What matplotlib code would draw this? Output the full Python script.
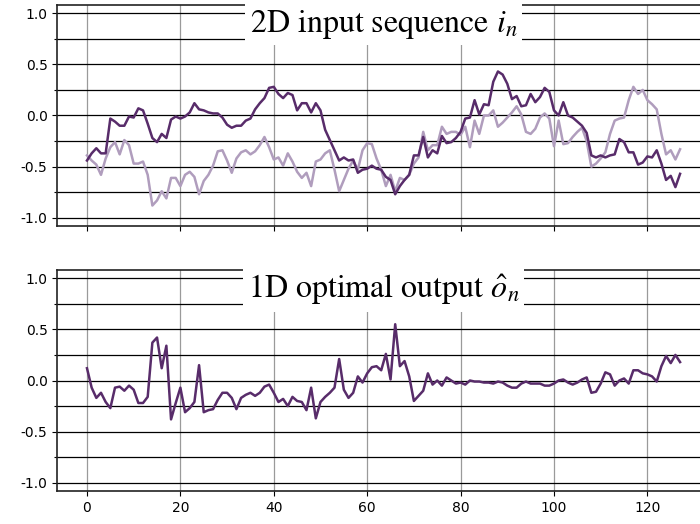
import numpy as np
import matplotlib
matplotlib.use("Agg")
import matplotlib.pyplot as plt
from matplotlib.ticker import MultipleLocator

plt.rcParams['axes.unicode_minus'] = False
plt.rcParams['mathtext.fontset'] = 'stix'

input_dim1 = [-0.44, -0.37, -0.32, -0.37, -0.37, -0.03, -0.06, -0.10, -0.10, -0.01,
              -0.02, 0.07, 0.05, -0.08, -0.22, -0.26, -0.18, -0.22, -0.04, -0.01,
              -0.03, -0.01, 0.03, 0.12, 0.06, 0.05, 0.03, 0.02, 0.02, -0.02,
              -0.09, -0.12, -0.10, -0.10, -0.05, -0.03, 0.06, 0.12, 0.17, 0.27,
              0.28, 0.21, 0.17, 0.22, 0.20, 0.05, 0.12, 0.12, 0.03, 0.12,
              0.05, -0.14, -0.24, -0.34, -0.44, -0.41, -0.44, -0.43, -0.56, -0.53,
              -0.52, -0.49, -0.52, -0.53, -0.60, -0.63, -0.77, -0.69, -0.63, -0.58,
              -0.39, -0.39, -0.21, -0.41, -0.34, -0.37, -0.20, -0.27, -0.26, -0.22,
              -0.16, -0.03, -0.02, 0.15, 0.01, 0.11, 0.10, 0.33, 0.43, 0.40,
              0.31, 0.16, 0.19, 0.09, 0.10, 0.21, 0.13, 0.18, 0.27, 0.23,
              0.05, 0.00, 0.13, 0.00, -0.02, -0.06, -0.10, -0.17, -0.39, -0.41,
              -0.39, -0.41, -0.39, -0.38, -0.23, -0.26, -0.36, -0.36, -0.48, -0.46,
              -0.40, -0.41, -0.34, -0.47, -0.63, -0.59, -0.70, -0.57]

input_dim2 = [-0.39, -0.44, -0.48, -0.58, -0.42, -0.31, -0.26, -0.38, -0.24, -0.29,
              -0.47, -0.47, -0.45, -0.58, -0.88, -0.83, -0.74, -0.81, -0.61, -0.61,
              -0.69, -0.58, -0.55, -0.60, -0.77, -0.64, -0.58, -0.49, -0.35, -0.34,
              -0.44, -0.56, -0.42, -0.36, -0.34, -0.38, -0.35, -0.29, -0.21, -0.31,
              -0.43, -0.41, -0.49, -0.37, -0.45, -0.55, -0.61, -0.56, -0.69, -0.45,
              -0.43, -0.37, -0.34, -0.53, -0.74, -0.63, -0.52, -0.44, -0.53, -0.34,
              -0.27, -0.28, -0.42, -0.53, -0.69, -0.58, -0.74, -0.61, -0.63, -0.58,
              -0.47, -0.41, -0.16, -0.34, -0.29, -0.29, -0.11, -0.18, -0.16, -0.16,
              -0.19, -0.11, -0.31, -0.05, -0.18, 0.00, 0.00, 0.05, -0.11, -0.07,
              -0.02, 0.03, 0.09, 0.01, -0.16, -0.18, -0.13, -0.02, 0.02, -0.03,
              -0.30, -0.05, -0.28, -0.27, -0.21, -0.16, -0.12, -0.25, -0.50, -0.47,
              -0.42, -0.36, -0.18, -0.05, -0.03, -0.02, 0.15, 0.28, 0.21, 0.25,
              0.15, 0.11, 0.06, -0.18, -0.38, -0.34, -0.43, -0.33]

optimal_output = [0.12, -0.07, -0.17, -0.12, -0.21, -0.27, -0.07, -0.06, -0.10, -0.05,
                  -0.09, -0.22, -0.22, -0.16, 0.37, 0.42, 0.12, 0.34, -0.38, -0.22,
                  -0.07, -0.31, -0.27, -0.21, 0.15, -0.31, -0.29, -0.28, -0.19, -0.12,
                  -0.12, -0.17, -0.28, -0.17, -0.14, -0.12, -0.15, -0.12, -0.06, -0.04,
                  -0.12, -0.21, -0.18, -0.25, -0.16, -0.20, -0.21, -0.29, -0.07, -0.37,
                  -0.21, -0.16, -0.12, -0.07, 0.21, -0.09, -0.17, -0.12, 0.04, -0.02,
                  0.07, 0.13, 0.14, 0.10, 0.26, 0.01, 0.55, 0.14, 0.19, 0.04,
                  -0.20, -0.15, -0.10, 0.07, -0.04, 0.00, -0.05, 0.03, 0.00, -0.03,
                  -0.02, -0.04, 0.00, -0.01, -0.01, -0.02, -0.02, -0.03, -0.01, -0.02,
                  -0.05, -0.07, -0.07, -0.03, -0.01, -0.03, -0.03, -0.03, -0.05, -0.05,
                  -0.03, 0.00, 0.01, -0.02, -0.04, -0.02, 0.01, 0.03, -0.12, -0.11,
                  -0.03, 0.08, 0.06, -0.05, 0.00, 0.02, -0.03, 0.10, 0.10, 0.07,
                  0.06, 0.04, -0.01, 0.14, 0.24, 0.17, 0.25, 0.18]

titles = ["2D input sequence $i_n$", "1D optimal output $\\hat{o}_n$"]
x_ticks = [0, 20, 40, 60, 80, 100, 120]

dark = '#582c6a'
light = '#b09dbd'

fig = plt.figure(figsize=(7.0, 5.24), dpi=100)
ax1 = fig.add_axes([0.0819, 0.5687, 0.932, 0.4218])
ax2 = fig.add_axes([0.0819, 0.0630, 0.932, 0.4217])

n = np.arange(len(input_dim1))

for ax in (ax1, ax2):
    ax.set_xlim(-6.35, 133.35)
    ax.set_ylim(-1.08, 1.08)
    ax.yaxis.set_major_locator(MultipleLocator(0.5))
    ax.yaxis.set_minor_locator(MultipleLocator(0.25))
    ax.set_xticks(x_ticks)
    ax.grid(True, axis='y', which='both', color='black', linewidth=0.9, zorder=0)
    ax.grid(True, axis='x', which='major', color='#9a9a9a', linewidth=0.9, zorder=0)
    ax.set_axisbelow(True)
    ax.tick_params(axis='y', which='major', length=3.5, width=0.8, labelsize=10)
    ax.tick_params(axis='y', which='minor', length=2.0, width=0.8)
    ax.tick_params(axis='x', which='major', length=3.5, width=0.8, labelsize=10)
    for s in ('left', 'top', 'bottom', 'right'):
        ax.spines[s].set_linewidth(1.2)
        ax.spines[s].set_color('#222222')

ax1.plot(n, input_dim1, color=dark, linewidth=1.8, zorder=3)
ax1.plot(n, input_dim2, color=light, linewidth=1.8, zorder=2)
ax1.tick_params(axis='x', labelbottom=False)
ax2.plot(n, optimal_output, color=dark, linewidth=1.8, zorder=3)

for ax, t in zip((ax1, ax2), titles):
    ax.text(0.5, 0.988, t, transform=ax.transAxes, ha='center', va='top',
            fontsize=23, family='STIXGeneral', zorder=5,
            bbox=dict(facecolor='white', edgecolor='none', pad=3.5))

fig.savefig('out.png', dpi=100)
